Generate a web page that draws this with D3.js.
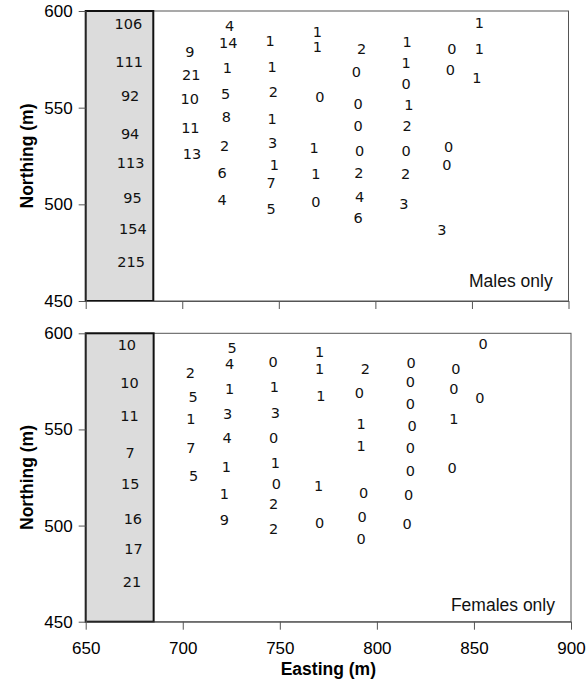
<!DOCTYPE html>
<html><head><meta charset="utf-8">
<script src="https://cdn.jsdelivr.net/npm/d3@7"></script>
<style>body{margin:0;background:#fff}</style>
</head><body>
<script>
// ---- data (easting, northing, count) ----
const maleEast  = [672.1,672.5,673,673,673.3,674.2,674.4,673.5,
  703.9,704.7,703.9,704.2,705,
  724.5,723.8,723.3,722.4,722.8,721.9,720.7,720.7,
  745.5,746.5,747.2,746.5,746.8,747.7,746,746,
  770,770,771.2,768.3,769.2,769.2,
  792.9,790.1,791.1,791.1,791.8,791.5,791.8,791.1,
  816.4,815.9,815.9,817.3,816.4,815.9,815.6,814.7,
  839.6,838.8,837.9,837,834.4,
  853.9,853.9,852.5];
const maleNorth = [593.3,573.8,556.2,536.7,521.7,503.4,487.6,470.3,
  578.9,566.9,554.8,539.6,525.9,
  592.2,583.6,570.7,557.1,545.3,530.3,516.4,502.6,
  584.6,571.2,558.3,544.5,531.9,520.7,511.2,497.9,
  589.3,581.5,555.7,529,516,501.4,
  580.7,568.6,552.2,540.5,527.7,516.4,503.9,492.8,
  584.1,573.3,562.6,551.4,540.5,527.7,516,500.5,
  580.7,569.8,529.8,520.3,486.7,
  593.9,580.7,565.7];
const maleCount = ["106","111","92","94","113","95","154","215",
  "9","21","10","11","13",
  "4","14","1","5","8","2","6","4",
  "1","1","2","1","3","1","7","5",
  "1","1","0","1","1","0",
  "2","0","0","0","0","2","4","6",
  "1","1","0","1","2","0","2","3",
  "0","0","0","0","3",
  "1","1","1"];

const femaleEast  = [671.2,672.6,672.6,672.9,672.9,674.3,674.6,673.8,
  703.9,705.3,704.2,704.2,705.6,
  725.4,724.1,724.1,723.1,722.8,722.4,721.4,721.4,
  746.5,747.2,747.7,746.8,747.7,748.2,746.8,746.8,
  770.5,770.5,771.2,770,770.5,
  794.1,791,791.9,791.9,793.2,792.4,791.9,
  817.6,817.3,817.3,818.1,817.3,817.3,816.4,815.6,
  840.7,839.7,839.6,838.8,
  854.7,853];
const femaleNorth = [593.9,574.5,557.1,537.6,521.6,503.7,487.8,470.8,
  579.7,567,555.4,540.2,525.8,
  592.7,584.4,571.4,558,545.4,530.6,516.4,502.9,
  585.2,572.2,558.7,545.4,532.7,521.6,511.2,498.5,
  590.4,581.8,567.4,520.7,501.5,
  581.8,569.1,553.2,541.4,517.1,504.6,493.3,
  584.7,574.8,563.2,551.8,540.7,528.5,515.9,500.8,
  581.3,570.9,555.8,530.3,
  594.4,566.7];
const femaleCount = ["10","10","11","7","15","16","17","21",
  "2","5","1","7","5",
  "5","4","1","3","4","1","1","9",
  "0","1","3","0","1","0","2","2",
  "1","1","1","1","0",
  "2","0","1","1","0","0","0",
  "0","0","0","0","0","0","0","0",
  "0","0","1","0",
  "0","0"];

const xTicks = [650,700,750,800,850,900];
const yTicks = [450,500,550,600];
const xDomain = [650,900];
const yDomain = [450,600];
const shadedEasting = [650,685];

const W = 587, H = 682;
const svg = d3.select("body").append("svg").attr("width",W).attr("height",H)
  .style("font-family","'Liberation Sans',Arial,sans-serif");

const panels = [
  {east:maleEast, north:maleNorth, count:maleCount, label:"Males only", top:11, bottom:301, left:85.7, right:568.5, labels:false, labelBase:286.5, labelEnd:552.7},
  {east:femaleEast, north:femaleNorth, count:femaleCount, label:"Females only", top:333.3, bottom:621.7, left:85.7, right:571, labels:true, labelBase:611, labelEnd:555}
];

panels.forEach(p => {
  const x = d3.scaleLinear().domain(xDomain).range([p.left,p.right]);
  const y = d3.scaleLinear().domain(yDomain).range([p.bottom,p.top]);
  const g = svg.append("g");

  // frame
  g.append("rect").attr("x",p.left).attr("y",p.top)
    .attr("width",p.right-p.left).attr("height",p.bottom-p.top)
    .attr("fill","none").attr("stroke","#555").attr("stroke-width",1);

  // shaded block
  g.append("rect").attr("x",x(shadedEasting[0])).attr("y",y(yDomain[1]))
    .attr("width",x(shadedEasting[1])-x(shadedEasting[0]))
    .attr("height",y(yDomain[0])-y(yDomain[1]))
    .attr("fill","#dcdcdc").attr("stroke","#111").attr("stroke-width",2);

  // axes
  const ax = g.append("g").attr("transform",`translate(0,${p.bottom})`)
    .call(d3.axisBottom(x).tickValues(xTicks).tickSize(8).tickPadding(12).tickSizeOuter(0)
      .tickFormat(p.labels ? d3.format("d") : () => ""));
  const ay = g.append("g").attr("transform",`translate(${p.left},0)`)
    .call(d3.axisLeft(y).tickValues(yTicks).tickSize(7).tickPadding(6).tickSizeOuter(0).tickFormat(d3.format("d")));
  [ax,ay].forEach(a => {
    a.select(".domain").attr("stroke","#555");
    a.selectAll(".tick line").attr("stroke","#555");
    a.selectAll(".tick text").attr("fill","#000").style("font-size","17px")
      .style("font-family","'Liberation Sans',Arial,sans-serif");
  });

  // count labels
  g.selectAll("text.cnt").data(p.count).join("text").attr("class","cnt")
    .attr("x",(d,i)=>x(p.east[i])).attr("y",(d,i)=>y(p.north[i]))
    .attr("dy","0.36em").attr("text-anchor","middle")
    .style("font-family","'DejaVu Sans',sans-serif").style("font-size","14.5px")
    .attr("fill","#111").text(d=>d);

  // panel label
  g.append("text").attr("x",p.labelEnd).attr("y",p.labelBase).attr("text-anchor","end")
    .style("font-size","17.5px").attr("fill","#111").text(p.label);

  // y title
  g.append("text").attr("transform",`translate(32.5,${(p.top+p.bottom)/2}) rotate(-90)`)
    .attr("text-anchor","middle").style("font-size","17.5px").style("font-weight","bold")
    .text("Northing (m)");
});

svg.append("text").attr("x",(85.7+571)/2).attr("y",675).attr("text-anchor","middle")
  .style("font-size","17.5px").style("font-weight","bold").text("Easting (m)");
</script>
</body></html>
